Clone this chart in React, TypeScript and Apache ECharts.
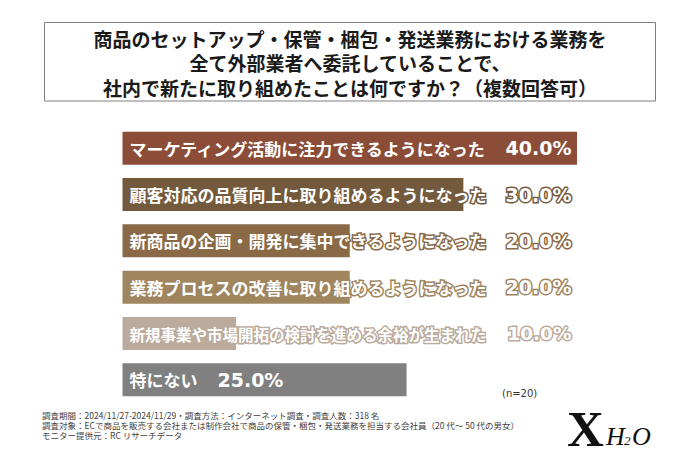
import React, { useEffect, useRef } from 'react';
import * as echarts from 'echarts';

const titleLines = [
  '商品のセットアップ・保管・梱包・発送業務における業務を',
  '全て外部業者へ委託していることで、',
  '社内で新たに取り組めたことは何ですか？（複数回答可）',
];
const categories = [
  'マーケティング活動に注力できるようになった',
  '顧客対応の品質向上に取り組めるようになった',
  '新商品の企画・開発に集中できるようになった',
  '業務プロセスの改善に取り組めるようになった',
  '新規事業や市場開拓の検討を進める余裕が生まれた',
  '特にない',
];
const values = [40.0, 30.0, 20.0, 20.0, 10.0, 25.0];
const barColors = ['#8B4D38', '#735A3D', '#8A6A46', '#A0865F', '#BAAB9C', '#808080'];
const labelSizes = [17, 17, 17, 17, 15.5, 17];
const sampleNote = '(n=20)';
const notes = [
  '調査期間：2024/11/27-2024/11/29・調査方法：インターネット調査・調査人数：318 名',
  '調査対象：ECで商品を販売する会社または制作会社で商品の保管・梱包・発送業務を担当する会社員（20 代～ 50 代の男女）',
  'モニター提供元：RC リサーチデータ',
];

export default function App() {
  const ref = useRef<HTMLDivElement>(null);
  useEffect(() => {
    document.body.style.margin = '0';
    const chart = echarts.init(ref.current!, null, { renderer: 'svg' });
    const JP = "'Noto Sans CJK JP', sans-serif";
    const NUM = "'DejaVu Sans', 'Noto Sans CJK JP', sans-serif";
    const data = values.map((v, i) => {
      const c = barColors[i];
      const last = i === values.length - 1;
      const base = { color: '#fff', fontWeight: 'bold' as const, textBorderColor: c, textBorderWidth: 3 };
      return {
        value: v,
        itemStyle: { color: c },
        label: {
          formatter: last
            ? `{t|${categories[i]}}{q|${v.toFixed(1)}%}`
            : `{t|${categories[i]}}{p|${v.toFixed(1)}%}`,
          rich: {
            t: { ...base, fontFamily: JP, fontSize: labelSizes[i], width: last ? undefined : 372 },
            p: { ...base, fontFamily: NUM, fontSize: i === 4 ? 18.5 : 19, width: 70, align: 'right' },
            q: { ...base, fontFamily: NUM, fontSize: 19, padding: [0, 0, 0, 20] },
          },
        },
      };
    });
    const noteTexts = notes.map((n, i) => ({
      type: 'text',
      x: 42,
      y: 415 + i * 10,
      style: {
        text: n,
        fontFamily: JP,
        fontSize: 8.5,
        fill: '#404040',
        verticalAlign: 'middle',
      },
    }));
    chart.setOption({
      animation: false,
      backgroundColor: '#ffffff',
      grid: { left: 122.5, right: 123, top: 125, height: 278 },
      xAxis: { type: 'value', min: 0, max: 40, show: false },
      yAxis: { type: 'category', data: categories, inverse: true, show: false },
      series: [
        {
          type: 'bar',
          data,
          barWidth: 33,
          label: { show: true, position: 'insideLeft', distance: 7 },
        },
      ],
      graphic: [
        {
          type: 'rect',
          shape: { x: 44.5, y: 22.5, width: 611, height: 78.5 },
          style: { fill: 'none', stroke: '#7f7f7f', lineWidth: 1 },
        },
        {
          type: 'text',
          x: 350,
          y: 25.75,
          style: {
            text: titleLines.join('\n'),
            fontFamily: JP,
            fontSize: 19,
            fontWeight: 'bold',
            lineHeight: 24.5,
            fill: '#1a1a1a',
            align: 'center',
            verticalAlign: 'top',
          },
        },
        {
          type: 'text',
          x: 502,
          y: 393,
          style: {
            text: sampleNote,
            fontFamily: "'DejaVu Sans', sans-serif",
            fontSize: 10,
            fill: '#333',
            verticalAlign: 'middle',
          },
        },
        ...noteTexts,
        {
          type: 'text',
          x: 567,
          y: 429,
          style: {
            text: 'X',
            fontFamily: "'Liberation Serif', serif",
            fontSize: 51,
            fontWeight: 'bold',
            fill: '#111',
            verticalAlign: 'middle',
          },
        },
        {
          type: 'text',
          x: 606,
          y: 436,
          style: {
            text: 'H',
            fontFamily: "'Liberation Serif', serif",
            fontSize: 26,
            fontStyle: 'italic',
            fill: '#111',
            verticalAlign: 'middle',
          },
        },
        {
          type: 'text',
          x: 624,
          y: 440,
          style: {
            text: '2',
            fontFamily: "'Liberation Serif', serif",
            fontSize: 13,
            fontStyle: 'italic',
            fill: '#111',
            verticalAlign: 'middle',
          },
        },
        {
          type: 'text',
          x: 632,
          y: 436,
          style: {
            text: 'O',
            fontFamily: "'Liberation Serif', serif",
            fontSize: 26,
            fontStyle: 'italic',
            fill: '#111',
            verticalAlign: 'middle',
          },
        },
      ],
    });
    return () => chart.dispose();
  }, []);
  return <div ref={ref} style={{ width: 700, height: 467 }} />;
}
